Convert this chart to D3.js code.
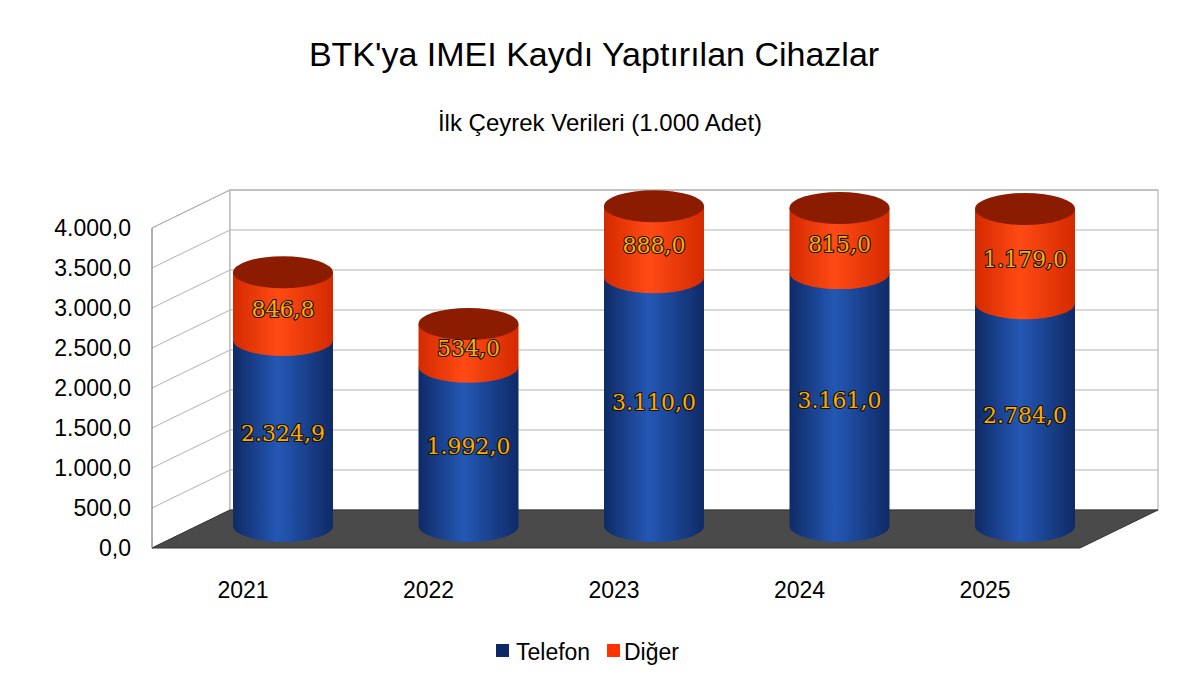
<!DOCTYPE html>
<html><head><meta charset="utf-8">
<script src="https://cdn.jsdelivr.net/npm/d3@7"></script>
<style>body{margin:0;background:#fff}</style></head>
<body><svg id="c" width="1200" height="675"></svg>
<script>
const years=["2021","2022","2023","2024","2025"];
const telefon=[2324.9,1992.0,3110.0,3161.0,2784.0];
const diger=[846.8,534.0,888.0,815.0,1179.0];
const telefonLabels=["2.324,9","1.992,0","3.110,0","3.161,0","2.784,0"];
const digerLabels=["846,8","534,0","888,0","815,0","1.179,0"];
const yTicks=[0,500,1000,1500,2000,2500,3000,3500,4000];
const yTickLabels=["0,0","500,0","1.000,0","1.500,0","2.000,0","2.500,0","3.000,0","3.500,0","4.000,0"];

const svg=d3.select("#c");
const F="Liberation Sans, Arial, sans-serif";
const dx=78, dy=-38;
const y=d3.scaleLinear().domain([0,4000]).range([548,228]);
const yb=d3.scaleLinear().domain([0,4000]).range([526,206]);
const x=d3.scaleBand().domain(years).range([150.25,1077.75]);
const defs=svg.append("defs");
function grad(id,c1,c2){const g=defs.append("linearGradient").attr("id",id);
 [[0,c1],[0.45,c2],[1,c1]].forEach(([o,c])=>g.append("stop").attr("offset",o).attr("stop-color",c));}
grad("gb","#0f2a66","#2458b5");grad("gr","#d42a00","#ff4a14");

svg.append("text").attr("x",594).attr("y",66).attr("text-anchor","middle").attr("font-family",F).attr("font-size",34).text("BTK'ya IMEI Kaydı Yaptırılan Cihazlar");
svg.append("text").attr("x",600).attr("y",131).attr("text-anchor","middle").attr("font-family",F).attr("font-size",24).text("İlk Çeyrek Verileri (1.000 Adet)");

const x0=152,x1=1080;
svg.append("path").attr("d",`M${x0},${y(0)}L${x0},${y(4000)}L${x0+dx},${y(4000)+dy}L${x0+dx},${y(0)+dy}Z`).attr("fill","#fff").attr("stroke","#aaa");
svg.append("rect").attr("x",x0+dx).attr("y",y(4000)+dy).attr("width",x1-x0).attr("height",y(0)-y(4000)).attr("fill","#fff").attr("stroke","#aaa");
yTicks.forEach(t=>{svg.append("path").attr("d",`M${x0},${y(t)}L${x0+dx},${y(t)+dy}L${x1+dx},${y(t)+dy}`).attr("fill","none").attr("stroke","#b3b3b3");});
svg.append("path").attr("d",`M${x0},${y(0)}L${x1},${y(0)}L${x1+dx},${y(0)+dy}L${x0+dx},${y(0)+dy}Z`).attr("fill","#4a4a4a").attr("stroke","#333");
svg.append("line").attr("x1",x0).attr("x2",x0).attr("y1",y(0)).attr("y2",y(4000)).attr("stroke","#888");

yTicks.forEach((t,i)=>svg.append("text").attr("x",131).attr("y",y(t)+8).attr("text-anchor","end").attr("font-family",F).attr("font-size",23).text(yTickLabels[i]));
years.forEach(yr=>svg.append("text").attr("x",x(yr)+x.bandwidth()/2).attr("y",598).attr("text-anchor","middle").attr("font-family",F).attr("font-size",23).text(yr));

const rx=50, ry=16;
function body(cx,v0,v1,fill){
 const t=yb(v1),b=yb(v0);
 svg.append("path").attr("d",`M${cx-rx},${t}L${cx-rx},${b}A${rx},${ry} 0 0 0 ${cx+rx},${b}L${cx+rx},${t}Z`).attr("fill",fill);
}
function label(cx,yy,txt){svg.append("text").attr("x",cx).attr("y",yy+8).attr("text-anchor","middle").attr("font-family","DejaVu Serif, serif").attr("font-size",22).attr("fill","#ffaa00").attr("stroke","#111").attr("stroke-width",2.2).attr("paint-order","stroke").text(txt);}
years.forEach((yr,i)=>{
 const cx=x(yr)+x.bandwidth()/2+40;
 const tot=telefon[i]+diger[i];
 body(cx,0,telefon[i],"url(#gb)");
 body(cx,telefon[i],tot,"url(#gr)");
 svg.append("ellipse").attr("cx",cx).attr("cy",yb(tot)).attr("rx",rx).attr("ry",ry).attr("fill","#8c1c00");
 label(cx,yb(telefon[i]/2),telefonLabels[i]);
 label(cx,yb(telefon[i]+diger[i]/2)+3,digerLabels[i]);
});
svg.append("rect").attr("x",496).attr("y",644).attr("width",13).attr("height",13).attr("fill","#0d2868");
svg.append("text").attr("x",516).attr("y",660).attr("font-family",F).attr("font-size",23).text("Telefon");
svg.append("rect").attr("x",607).attr("y",644).attr("width",13).attr("height",13).attr("fill","#ff3300");
svg.append("text").attr("x",624).attr("y",660).attr("font-family",F).attr("font-size",23).text("Diğer");
</script></body></html>
